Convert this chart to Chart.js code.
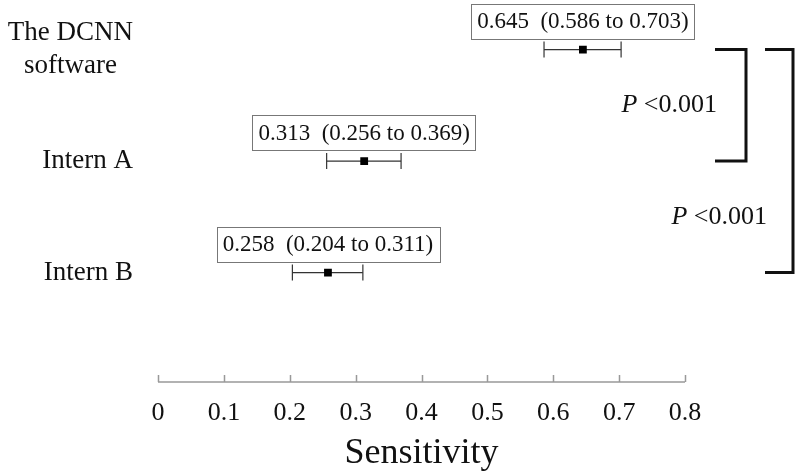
<!DOCTYPE html>
<html>
<head>
<meta charset="utf-8">
<script src="https://cdn.jsdelivr.net/npm/chart.js@4/dist/chart.umd.min.js"></script>
<style>
  html, body { margin: 0; padding: 0; background: #fff; }
  #wrap { width: 800px; height: 471px; }
</style>
</head>
<body>
<div id="wrap"><canvas id="chart" width="800" height="471"></canvas></div>
<script>
// Forest plot data: sensitivity with 95% CI
const groupLabels = [['The DCNN', 'software'], ['Intern A'], ['Intern B']];
const rowPos = [3, 2, 1];
const sensitivity = [0.645, 0.313, 0.258];
const ciLow = [0.586, 0.256, 0.204];
const ciHigh = [0.703, 0.369, 0.311];
const xTicks = [0, 0.1, 0.2, 0.3, 0.4, 0.5, 0.6, 0.7, 0.8];
// comparisons: [rowA, rowB], p text
const comparisons = [[0, 1], [0, 2]];
const pValues = ['<0.001', '<0.001'];

const SERIF = '"Liberation Serif", "Times New Roman", serif';

function fmt(v) { return v.toFixed(3); }

const ciSets = rowPos.map((y, i) => ({
  type: 'line',
  data: [{ x: ciLow[i], y: y }, { x: ciHigh[i], y: y }],
  borderColor: '#333',
  borderWidth: 1.2,
  pointStyle: 'line',
  pointRotation: 90,
  pointRadius: 8,
  pointBorderWidth: 1.2,
  pointBorderColor: '#333',
  pointHoverRadius: 8,
  order: 2
}));

const pointSet = {
  type: 'scatter',
  data: rowPos.map((y, i) => ({ x: sensitivity[i], y: y })),
  pointStyle: 'rect',
  pointRadius: 5.5,
  backgroundColor: '#000',
  borderColor: '#000',
  borderWidth: 0,
  order: 1
};

const forestPlugin = {
  id: 'forest',
  afterDatasetsDraw(chart) {
    const { ctx, scales: { x, y } } = chart;
    ctx.save();
    ctx.fillStyle = '#111';

    // row labels on the left
    ctx.font = '27px ' + SERIF;
    ctx.textBaseline = 'middle';
    ctx.textAlign = 'center';
    groupLabels.forEach((lines, i) => {
      const w = Math.max(...lines.map(l => ctx.measureText(l).width));
      const cx = 133 - w / 2;
      const cy = y.getPixelForValue(rowPos[i]);
      const lh = 33;
      lines.forEach((l, k) => {
        ctx.fillText(l, cx, cy + (k - (lines.length - 1) / 2) * lh);
      });
    });

    // value boxes above each estimate
    ctx.font = '23px ' + SERIF;
    rowPos.forEach((r, i) => {
      const txt = fmt(sensitivity[i]) + '  (' + fmt(ciLow[i]) + ' to ' + fmt(ciHigh[i]) + ')';
      const px = x.getPixelForValue(sensitivity[i]);
      const py = y.getPixelForValue(r);
      const w = ctx.measureText(txt).width + 12;
      const h = 35;
      const bx = px - w / 2, by = py - 46;
      ctx.strokeStyle = '#777';
      ctx.lineWidth = 1;
      ctx.strokeRect(Math.round(bx) + 0.5, Math.round(by) + 0.5, Math.round(w), h);
      ctx.fillStyle = '#111';
      ctx.fillText(txt, px, by + h / 2 + 1);
    });

    // significance brackets
    const brackets = [{ x0: 715, x1: 746 }, { x0: 765, x1: 793 }];
    ctx.strokeStyle = '#111';
    ctx.lineWidth = 3;
    comparisons.forEach((c, k) => {
      const ya = y.getPixelForValue(rowPos[c[0]]);
      const yb = y.getPixelForValue(rowPos[c[1]]);
      const b = brackets[k];
      ctx.beginPath();
      ctx.moveTo(b.x0, ya);
      ctx.lineTo(b.x1, ya);
      ctx.lineTo(b.x1, yb);
      ctx.lineTo(b.x0, yb);
      ctx.stroke();

      // text between the last two rows of the span
      const yt = (y.getPixelForValue(rowPos[c[1] - 1]) + yb) / 2;
      ctx.font = '26px ' + SERIF;
      const rest = ' ' + pValues[k];
      const wr = ctx.measureText(rest).width;
      ctx.font = 'italic 26px ' + SERIF;
      const wp = ctx.measureText('P').width;
      const right = b.x0 + 2;
      ctx.textAlign = 'left';
      ctx.fillText('P', right - wr - wp, yt);
      ctx.font = '26px ' + SERIF;
      ctx.fillText(rest, right - wr, yt);
    });

    // x axis line with ticks pointing up
    const ay = chart.chartArea.bottom;
    ctx.strokeStyle = '#999';
    ctx.lineWidth = 1.5;
    ctx.beginPath();
    ctx.moveTo(x.left, ay);
    ctx.lineTo(x.right, ay);
    x.ticks.forEach(t => {
      const tx = Math.round(x.getPixelForValue(t.value)) + 0.5;
      ctx.moveTo(tx, ay);
      ctx.lineTo(tx, ay - 7);
    });
    ctx.stroke();
    ctx.restore();
  }
};

new Chart(document.getElementById('chart'), {
  data: { datasets: [pointSet, ...ciSets] },
  options: {
    responsive: false,
    animation: false,
    layout: { padding: { left: 158, right: 115, top: 0, bottom: 0 } },
    plugins: { legend: { display: false }, tooltip: { enabled: false } },
    scales: {
      x: {
        type: 'linear',
        min: 0,
        max: 0.8,
        afterBuildTicks(scale) { scale.ticks = xTicks.map(v => ({ value: v })); },
        afterFit(scale) { scale.height = 89; },
        grid: { display: false, drawTicks: false },
        border: { display: false },
        ticks: {
          padding: 16,
          color: '#111',
          font: { family: SERIF, size: 26 },
          callback: v => (v === 0 ? '0' : v.toFixed(1))
        },
        title: {
          display: true,
          text: 'Sensitivity',
          color: '#111',
          font: { family: SERIF, size: 36 },
          padding: { top: 0, bottom: -4 }
        }
      },
      y: {
        type: 'linear',
        display: false,
        min: 0.019,
        max: 3.362
      }
    }
  },
  plugins: [forestPlugin]
});
</script>
</body>
</html>
